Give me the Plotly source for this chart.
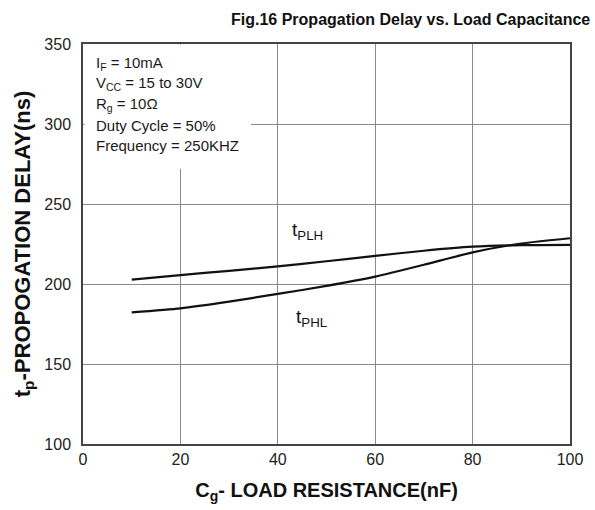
import plotly.graph_objects as go

load_nf = [10, 20, 30, 40, 50, 60, 70, 80, 90, 100]
t_plh = [202.7, 205.6, 208.2, 211.0, 214.2, 217.6, 220.8, 223.3, 224.3, 224.5]
t_phl = [182.3, 184.8, 189.0, 193.8, 198.8, 204.6, 212.0, 219.8, 225.3, 228.6]

x_ticks = [0, 20, 40, 60, 80, 100]
y_ticks = [100, 150, 200, 250, 300, 350]

cond_lines = ["I<sub>F</sub> = 10mA", "V<sub>CC</sub> = 15 to 30V", "R<sub>g</sub> = 10Ω",
              "Duty Cycle = 50%", "Frequency = 250KHZ"]

FONT = "Liberation Sans, Arial, sans-serif"

fig = go.Figure()
for ys in (t_plh, t_phl):
    fig.add_trace(go.Scatter(x=load_nf, y=ys, mode="lines",
                             line=dict(color="#111111", width=2.2, shape="spline", smoothing=0.6),
                             showlegend=False, hoverinfo="skip"))

fig.update_layout(
    width=595, height=510,
    margin=dict(l=83, r=21, t=44, b=66),
    paper_bgcolor="white", plot_bgcolor="white",
    font=dict(family=FONT, color="#1a1a1a"),
    title=dict(text="<b>Fig.16 Propagation Delay vs. Load Capacitance</b>",
               x=0.992, xanchor="right", xref="container", y=0.962, yanchor="middle",
               font=dict(size=16, color="#111111", family=FONT)),
    xaxis=dict(range=[0, 100], tickvals=x_ticks, showgrid=True, gridcolor="#8a8a8a", gridwidth=1,
               showline=True, linecolor="#444444", linewidth=1.5, mirror=True,
               ticks="", tickfont=dict(size=16, color="#222222"), zeroline=False,
               title=dict(text="<b>C<sub>g</sub>- LOAD RESISTANCE(nF)</b>",
                          font=dict(size=20, color="#111111"), standoff=16)),
    yaxis=dict(range=[100, 350], tickvals=y_ticks, showgrid=True, gridcolor="#8a8a8a", gridwidth=1,
               showline=True, linecolor="#444444", linewidth=1.5, mirror=True,
               ticks="", tickfont=dict(size=16, color="#222222"), zeroline=False,
               ticklabelstandoff=7,
               title=dict(text="<b>t<sub>p</sub>-PROPOGATION DELAY(ns)</b>",
                          font=dict(size=22, color="#111111"), standoff=8)),
)

# white box behind condition text (covers gridlines)
fig.add_shape(type="rect", xref="x", yref="y", x0=0.3, x1=34.5, y0=272, y1=349.5,
              fillcolor="white", line=dict(width=0), layer="between")

for i, t in enumerate(cond_lines):
    fig.add_annotation(x=0.022, xref="paper", y=338 - i * 12.9, yref="y",
                       text=t, showarrow=False, xanchor="left", yanchor="middle",
                       font=dict(size=15, color="#1a1a1a", family=FONT))

fig.add_annotation(x=42.6, y=233.0, text="t<sub>PLH</sub>", showarrow=False,
                   xanchor="left", yanchor="middle", font=dict(size=19, color="#111111", family=FONT))
fig.add_annotation(x=43.4, y=178.5, text="t<sub>PHL</sub>", showarrow=False,
                   xanchor="left", yanchor="middle", font=dict(size=19, color="#111111", family=FONT))

fig.write_html("out.html")
